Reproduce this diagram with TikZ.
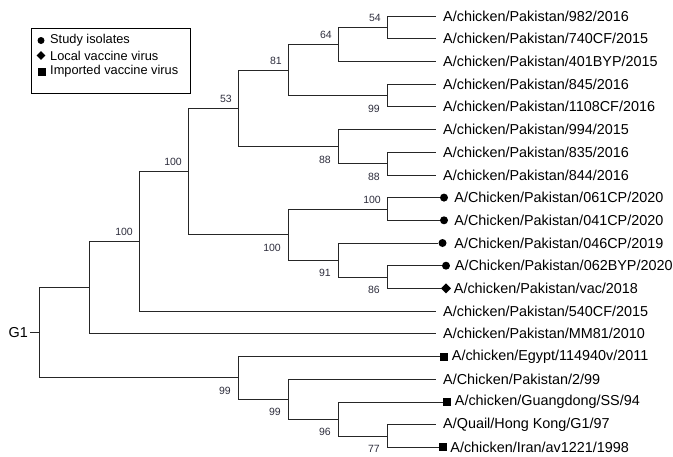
\documentclass[tikz,border=0pt]{standalone}
\usepackage{fontspec}
\setmainfont{Liberation Sans}
\usetikzlibrary{shapes.geometric, positioning}
\definecolor{bootgray}{RGB}{45,45,60}
\newcommand{\leaffont}{\fontsize{14.4}{17}\selectfont}
\newcommand{\keyfont}{\fontsize{12.8}{15}\selectfont}
\newcommand{\bootfont}{\fontsize{10.5}{12}\selectfont}

\begin{document}
\begin{tikzpicture}[
    x=1pt, y=-1pt,
    branch/.style={draw=black!85, line width=0.75pt},
    leaf/.style={anchor=west, inner xsep=7pt, inner ysep=1pt, font=\leaffont},
    tag/.style={inner xsep=0pt, inner ysep=1pt, font=\leaffont},
    dot/.style={circle, fill, inner sep=0pt, minimum size=8pt},
    sq/.style={rectangle, fill, inner sep=0pt, minimum size=8pt},
    dmd/.style={diamond, fill, inner sep=0pt, minimum size=10pt},
    bsup/.style={anchor=base east, inner sep=0pt, xshift=-6pt, yshift=6pt, font=\bootfont, text=bootgray},
    bslo/.style={anchor=north east, inner sep=0pt, xshift=-7pt, yshift=-9pt, font=\bootfont, text=bootgray},
    keytext/.style={anchor=west, inner sep=0pt, font=\keyfont},
    node distance=6pt,
]
\useasboundingbox (0,0) rectangle (673,456);

% legend
\node[draw, line width=0.7pt, minimum width=159pt, minimum height=65pt, inner sep=0pt] (legend) at (110.5,60.5) {};
\node[dot, minimum size=7pt] (kdot) at (41,40.5) {};
\node[dmd, minimum size=9pt] (kdmd) at (41,55.5) {};
\node[sq] (ksq) at (42,71.5) {};
\node[keytext] (kstudy) at (50,40.5) {Study isolates};
\node[keytext] (klocal) at (50,55.5) {Local vaccine virus};
\node[keytext] (kimport) at (50,71.5) {Imported vaccine virus};

% leaves
\node[leaf] (l982) at (436,16) {A/chicken/Pakistan/982/2016};
\node[leaf] (l740) at (436,38.7) {A/chicken/Pakistan/740CF/2015};
\node[leaf] (l401) at (436,61.4) {A/chicken/Pakistan/401BYP/2015};
\node[leaf] (l845) at (436,84.1) {A/chicken/Pakistan/845/2016};
\node[leaf] (l1108) at (436,106.8) {A/chicken/Pakistan/1108CF/2016};
\node[leaf] (l994) at (436,129.5) {A/chicken/Pakistan/994/2015};
\node[leaf] (l835) at (436,152.2) {A/chicken/Pakistan/835/2016};
\node[leaf] (l844) at (436,174.9) {A/chicken/Pakistan/844/2016};
\node[dot] (m061) at (444,197.6) {};
\node[tag, right=of m061] (l061) {A/Chicken/Pakistan/061CP/2020};
\node[dot] (m041) at (444,220.3) {};
\node[tag, right=of m041] (l041) {A/Chicken/Pakistan/041CP/2020};
\node[dot] (m046) at (442.5,243) {};
\node[tag, right=7.5pt of m046] (l046) {A/Chicken/Pakistan/046CP/2019};
\node[dot] (m062) at (446,265.7) {};
\node[tag, right=4.5pt of m062] (l062) {A/Chicken/Pakistan/062BYP/2020};
\node[dmd] (mvac) at (446,288.4) {};
\node[tag, right=2.5pt of mvac] (lvac) {A/chicken/Pakistan/vac/2018};
\node[leaf] (l540) at (436,311.1) {A/chicken/Pakistan/540CF/2015};
\node[leaf] (lmm81) at (436,333.8) {A/chicken/Pakistan/MM81/2010};
\node[sq] (megy) at (444,356.5) {};
\node[tag, right=3.5pt of megy] (legy) {A/chicken/Egypt/114940v/2011};
\node[leaf] (lpak) at (436,379.2) {A/Chicken/Pakistan/2/99};
\node[sq] (mgd) at (447,401.9) {};
\node[tag, right=3.5pt of mgd] (lgd) {A/chicken/Guangdong/SS/94};
\node[leaf] (lqua) at (436,424.6) {A/Quail/Hong Kong/G1/97};
\node[sq] (miran) at (443,447.3) {};
\node[tag, right=3pt of miran] (liran) {A/chicken/Iran/av1221/1998};

% internal nodes
\coordinate (n54) at (387,27.4);
\coordinate (n64) at (338,44.4);
\coordinate (n99a) at (387,95.5);
\coordinate (n81) at (288,70);
\coordinate (n88b) at (387,163.6);
\coordinate (n88a) at (338,146.5);
\coordinate (n53) at (238,108.2);
\coordinate (n100a) at (387,209);
\coordinate (n86) at (387,277);
\coordinate (n91) at (338,260);
\coordinate (n100b) at (288,234.5);
\coordinate (n100c) at (188,171.4);
\coordinate (n100d) at (139,241.2);
\coordinate (nmm) at (89,287.5);
\coordinate (n77) at (387,436);
\coordinate (n96) at (338,418.9);
\coordinate (n99b) at (288,399.1);
\coordinate (n99c) at (238,377.8);
\coordinate (root) at (39,332.6);
\node[anchor=east, inner xsep=2pt, inner ysep=0pt, font=\leaffont] (g1) at (30,332.6) {G1};

% branches
\draw[branch] (n54) |- (l982);
\draw[branch] (n54) |- (l740);
\draw[branch] (n64) |- (n54);
\draw[branch] (n64) |- (l401);
\draw[branch] (n99a) |- (l845);
\draw[branch] (n99a) |- (l1108);
\draw[branch] (n81) |- (n64);
\draw[branch] (n81) |- (n99a);
\draw[branch] (n88b) |- (l835);
\draw[branch] (n88b) |- (l844);
\draw[branch] (n88a) |- (l994);
\draw[branch] (n88a) |- (n88b);
\draw[branch] (n53) |- (n81);
\draw[branch] (n53) |- (n88a);
\draw[branch] (n100a) |- (m061);
\draw[branch] (n100a) |- (m041);
\draw[branch] (n86) |- (m062);
\draw[branch] (n86) |- (mvac);
\draw[branch] (n91) |- (m046);
\draw[branch] (n91) |- (n86);
\draw[branch] (n100b) |- (n100a);
\draw[branch] (n100b) |- (n91);
\draw[branch] (n100c) |- (n53);
\draw[branch] (n100c) |- (n100b);
\draw[branch] (n100d) |- (n100c);
\draw[branch] (n100d) |- (l540);
\draw[branch] (nmm) |- (n100d);
\draw[branch] (nmm) |- (lmm81);
\draw[branch] (n77) |- (lqua);
\draw[branch] (n77) |- (miran);
\draw[branch] (n96) |- (mgd);
\draw[branch] (n96) |- (n77);
\draw[branch] (n99b) |- (lpak);
\draw[branch] (n99b) |- (n96);
\draw[branch] (n99c) |- (megy);
\draw[branch] (n99c) |- (n99b);
\draw[branch] (root) |- (nmm);
\draw[branch] (root) |- (n99c);
\draw[branch] (g1) -- (root);

% bootstrap values
\node[bsup] (b54) at (n54) {54};
\node[bsup] (b64) at (n64) {64};
\node[bsup] (b81) at (n81) {81};
\node[bslo] (b99a) at (n99a) {99};
\node[bsup] (b53) at (n53) {53};
\node[bslo] (b88a) at (n88a) {88};
\node[bslo] (b88b) at (n88b) {88};
\node[bsup] (b100a) at (n100a) {100};
\node[bslo] (b100b) at (n100b) {100};
\node[bslo] (b91) at (n91) {91};
\node[bslo] (b86) at (n86) {86};
\node[bsup] (b100c) at (n100c) {100};
\node[bsup] (b100d) at (n100d) {100};
\node[bslo] (b99c) at (n99c) {99};
\node[bslo] (b99b) at (n99b) {99};
\node[bslo] (b96) at (n96) {96};
\node[bslo] (b77) at (n77) {77};
\end{tikzpicture}
\end{document}
